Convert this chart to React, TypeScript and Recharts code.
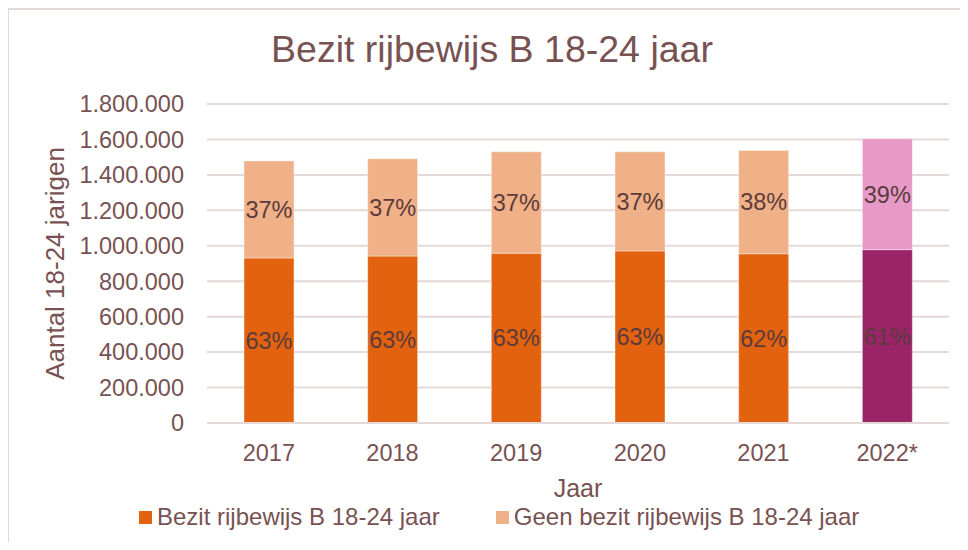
import { BarChart, Bar, XAxis, YAxis, CartesianGrid, Legend, LabelList, Cell } from 'recharts';

const years = ['2017', '2018', '2019', '2020', '2021', '2022*'];
const bezit = [931000, 942000, 958000, 971000, 955000, 978000];
const geenBezit = [548000, 549000, 572000, 559000, 583000, 626000];
const yTicks = [0, 200000, 400000, 600000, 800000, 1000000, 1200000, 1400000, 1600000, 1800000];

const BEZIT = '#e2620f';
const GEEN = '#f0b088';
const BEZIT_2022 = '#9b2468';
const GEEN_2022 = '#e79ac7';
const TEXT = '#785252';
const GRID = '#e4d8d8';
const FONT = 'Arial, "Liberation Sans", sans-serif';

const data = years.map((year, i) => {
  const total = bezit[i] + geenBezit[i];
  return {
    year,
    bezit: bezit[i],
    geen: geenBezit[i],
    bezitPct: Math.round((bezit[i] / total) * 100),
    geenPct: Math.round((geenBezit[i] / total) * 100),
  };
});

const fmt = (v: number) => String(v).replace(/\B(?=(\d{3})+(?!\d))/g, '.');

function LegendContent(props: any) {
  const items = props.payload || [];
  return (
    <div style={{ display: 'flex', alignItems: 'center', height: 34, fontFamily: FONT, fontSize: 24, color: TEXT }}>
      {items.map((item: any, i: number) => (
        <div key={i} style={{ display: 'flex', alignItems: 'center', marginRight: 56 }}>
          <span style={{ width: 13, height: 13, background: item.color, marginRight: 5, display: 'inline-block' }} />
          <span>{item.value}</span>
        </div>
      ))}
    </div>
  );
}

export default function App() {
  return (
    <div style={{ position: 'relative', width: 968, height: 550, margin: -8, background: '#fff', fontFamily: FONT }}>
      <div
        style={{
          position: 'absolute',
          left: 7,
          top: 8,
          width: 961,
          height: 542,
          borderTop: `2px solid ${GRID}`,
          borderLeft: `2px solid ${GRID}`,
          boxSizing: 'border-box',
        }}
      />
      <div
        style={{
          position: 'absolute',
          left: 192,
          top: 30.5,
          width: 600,
          textAlign: 'center',
          fontSize: 37.5,
          lineHeight: '37px',
          color: TEXT,
          whiteSpace: 'nowrap',
        }}
      >
        Bezit rijbewijs B 18-24 jaar
      </div>
      <div style={{ position: 'absolute', left: 0, top: 0 }}>
        <BarChart
          width={968}
          height={550}
          data={data}
          margin={{ top: 104, right: 19, left: 0, bottom: 16 }}
          barSize={50}
        >
          <CartesianGrid vertical={false} stroke={GRID} strokeWidth={2} />
          <XAxis
            dataKey="year"
            height={77}
            tickLine={false}
            axisLine={{ stroke: GRID, strokeWidth: 2 }}
            tickMargin={15}
            tick={{ fill: TEXT, fontSize: 23.5, fontFamily: FONT }}
            label={{ value: 'Jaar', position: 'insideBottom', offset: 3, fill: TEXT, fontSize: 25, fontFamily: FONT }}
          />
          <YAxis
            width={207}
            domain={[0, 1800000]}
            ticks={yTicks}
            tickFormatter={fmt}
            tickLine={false}
            axisLine={false}
            tickMargin={17}
            tick={{ fill: TEXT, fontSize: 23.5, fontFamily: FONT }}
            label={{
              value: 'Aantal 18-24 jarigen',
              angle: -90,
              position: 'insideLeft',
              offset: 55,
              fill: TEXT,
              fontSize: 26,
              fontFamily: FONT,
              style: { textAnchor: 'middle' },
            }}
          />
          <Legend
            verticalAlign="bottom"
            layout="horizontal"
            height={34}
            wrapperStyle={{ left: 139, width: 820, height: 34 }}
            content={LegendContent}
          />
          <Bar
            dataKey="bezit"
            name="Bezit rijbewijs B 18-24 jaar"
            stackId="a"
            fill={BEZIT}
            stroke="rgba(255,255,255,0.4)"
            strokeWidth={1}
            isAnimationActive={false}
          >
            {data.map((d, i) => (
              <Cell key={`b-${i}`} fill={d.year === '2022*' ? BEZIT_2022 : BEZIT} />
            ))}
            <LabelList
              dataKey="bezitPct"
              position="center"
              formatter={(v: any) => `${v}%`}
              fill="#5b3b3b"
              fontSize={23.5}
              fontFamily={FONT}
            />
          </Bar>
          <Bar
            dataKey="geen"
            name="Geen bezit rijbewijs B 18-24 jaar"
            stackId="a"
            fill={GEEN}
            stroke="rgba(255,255,255,0.4)"
            strokeWidth={1}
            isAnimationActive={false}
          >
            {data.map((d, i) => (
              <Cell key={`g-${i}`} fill={d.year === '2022*' ? GEEN_2022 : GEEN} />
            ))}
            <LabelList
              dataKey="geenPct"
              position="center"
              formatter={(v: any) => `${v}%`}
              fill="#5b3b3b"
              fontSize={23.5}
              fontFamily={FONT}
            />
          </Bar>
        </BarChart>
      </div>
    </div>
  );
}
